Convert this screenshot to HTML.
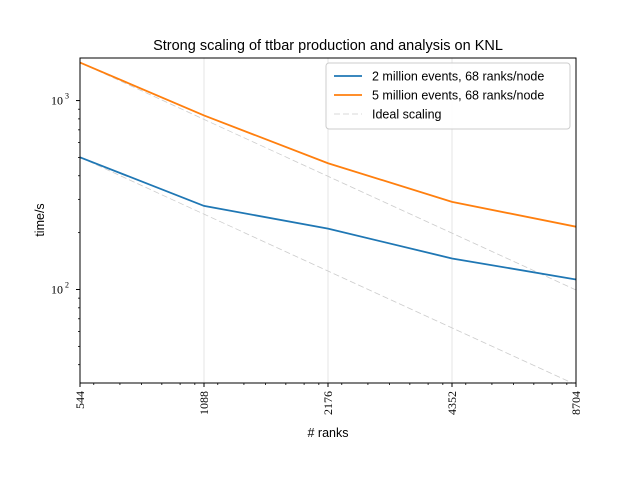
<!DOCTYPE html>
<html><head><meta charset="utf-8"><style>
body{margin:0;background:#fff}
</style></head><body>
<svg width="640" height="480" viewBox="0 0 640 480" xmlns="http://www.w3.org/2000/svg" font-family="Liberation Sans, sans-serif">
<g id="g"></g>
</svg>
<script>
const categories=[544,1088,2176,4352,8704];
const series2M=[501,277,210,146,113];
const series5M=[1590,834,466,291,215];
const seriesNames=["2 million events, 68 ranks/node","5 million events, 68 ranks/node","Ideal scaling"];
const yMajor=[100,1000];
const yMajorLabels=["10","10"];
const L=80,R=576,T=58,B=383;
const yMin=32,yMax=1680;
const SERIF="font-family:'Liberation Serif',serif";
function X(v){return L+(Math.log2(v/544))/4*(R-L);}
function Y(v){return B-(Math.log10(v)-Math.log10(yMin))/(Math.log10(yMax)-Math.log10(yMin))*(B-T);}
const g=document.getElementById('g');const NS="http://www.w3.org/2000/svg";
function el(t,a,txt){const e=document.createElementNS(NS,t);for(const k in a)e.setAttribute(k,a[k]);if(txt!==undefined)e.textContent=txt;g.appendChild(e);return e;}
const clip=el('clipPath',{id:'c'});const r=document.createElementNS(NS,'rect');r.setAttribute('x',L);r.setAttribute('y',T);r.setAttribute('width',R-L);r.setAttribute('height',B-T);clip.appendChild(r);
categories.forEach(c=>{const e=el('line',{x1:X(c),x2:X(c),y1:T,y2:B,stroke:'#e6e6e6','stroke-width':1});

});
[series2M,series5M].forEach(s=>{const p=categories.map(c=>X(c)+','+Y(s[0]*categories[0]/c)).join(' ');
const e=el('polyline',{points:p,fill:'none',stroke:'#ccc','stroke-width':0.8,'stroke-dasharray':'6,3','clip-path':'url(#c)'});

});
[[series2M,'#1f77b4','series-2m'],[series5M,'#ff7f0e','series-5m']].forEach(([s,c,n])=>{
const e=el('polyline',{points:categories.map((x,i)=>X(x)+','+Y(s[i])).join(' '),fill:'none',stroke:c,'stroke-width':1.8,'clip-path':'url(#c)'});

});
const bx=el('rect',{x:L,y:T,width:R-L,height:B-T,fill:'none',stroke:'#000','stroke-width':1});


categories.forEach(c=>{el('line',{x1:X(c),x2:X(c),y1:B,y2:B+4,stroke:'#000'});
const t=el('text',{x:0,y:0,transform:`translate(${X(c)+4},${B+8}) rotate(-90)`,'text-anchor':'end','font-size':12,style:SERIF},c);

});
for(let k=0;k<4;k++)[1.08,1.25,1.41,1.58,1.75,1.9].forEach(f=>{const x=X(544*Math.pow(2,k)*f);el('line',{x1:x,x2:x,y1:B,y2:B+2,stroke:'#000','stroke-width':0.8});});
yMajor.forEach((v,i)=>{el('line',{x1:L-4,x2:L,y1:Y(v),y2:Y(v),stroke:'#000'});
const t=el('text',{x:L-17,y:Y(v)+4,'text-anchor':'end','font-size':12,style:SERIF},yMajorLabels[i]);


el('text',{x:L-11,y:Y(v)-2,'text-anchor':'end','font-size':8,style:SERIF},i+2);});
[40,50,60,70,80,90,200,300,400,500,600,700,800,900].forEach(v=>el('line',{x1:L-2,x2:L,y1:Y(v),y2:Y(v),stroke:'#000','stroke-width':0.8}));
const tt=el('text',{x:328,y:50,'text-anchor':'middle','font-size':14.5},"Strong scaling of ttbar production and analysis on KNL");


const xl=el('text',{x:328,y:437,'text-anchor':'middle','font-size':12.5},"# ranks");


const yl=el('text',{x:0,y:0,transform:'translate(44,220) rotate(-90)','text-anchor':'middle','font-size':12.5},"time/s");


const lg=el('rect',{x:326,y:63,width:244,height:66,rx:3,fill:'#fff','fill-opacity':0.85,stroke:'#ccc'});


[['#1f77b4',1.8,''],['#ff7f0e',1.8,''],['#ccc',0.8,'6,3']].forEach(([c,w,d],i)=>{const y=76+i*19;
el('line',{x1:334,x2:362,y1:y,y2:y,stroke:c,'stroke-width':w,'stroke-dasharray':d});
const t=el('text',{x:372,y:y+4.5,'font-size':12.5},seriesNames[i]);

});
</script>
</body></html>
